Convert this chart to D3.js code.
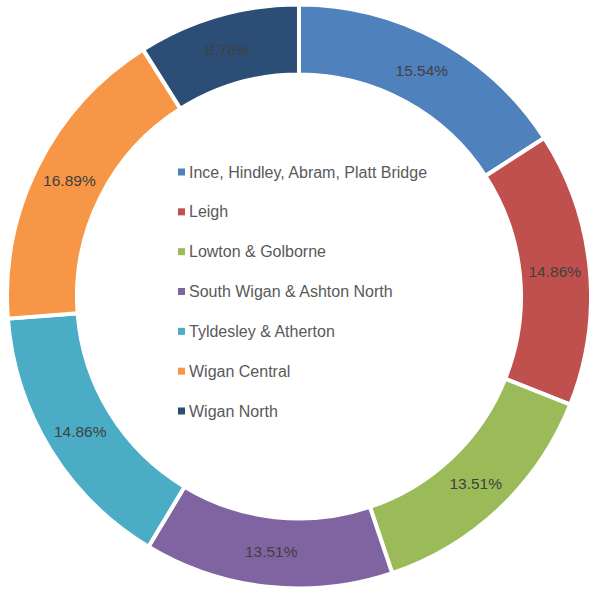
<!DOCTYPE html>
<html>
<head>
<meta charset="utf-8">
<script src="https://cdn.jsdelivr.net/npm/d3@7"></script>
<style>
  body { margin: 0; background: #fff; }
  svg text { font-family: "Liberation Sans", Arial, sans-serif; }
</style>
</head>
<body>
<div id="app"></div>
<script>
const width = 589,
  height = 590;

const categories = [
  "Ince, Hindley, Abram, Platt Bridge",
  "Leigh",
  "Lowton & Golborne",
  "South Wigan & Ashton North",
  "Tyldesley & Atherton",
  "Wigan Central",
  "Wigan North"
];
const values = [15.54, 14.86, 13.51, 13.51, 14.86, 16.89, 8.78];
const colors = ["#4f81bd", "#c0504d", "#9bbb59", "#8064a2", "#4bacc6", "#f79646", "#2c4d75"];

const cx = 299,
  cy = 296.5,
  outerR = 292,
  innerR = 222;

const svg = d3.select("#app").append("svg")
  .attr("width", width)
  .attr("height", height);

const color = d3.scaleOrdinal().domain(categories).range(colors);

const pie = d3.pie().sort(null).value(d => d.value);
const arc = d3.arc().innerRadius(innerR).outerRadius(outerR);

const data = categories.map((c, i) => ({ name: c, value: values[i] }));

const g = svg.append("g").attr("transform", `translate(${cx},${cy})`);

g.selectAll("path.slice")
  .data(pie(data))
  .join("path")
  .attr("class", "slice")
  .attr("d", arc)
  .attr("fill", d => color(d.data.name))
  .attr("stroke", "#fff")
  .attr("stroke-width", 4)
  .attr("stroke-linejoin", "miter");

// percentage labels at arc centroids
g.selectAll("text.lbl")
  .data(pie(data))
  .join("text")
  .attr("class", "lbl")
  .attr("transform", d => `translate(${arc.centroid(d)})`)
  .attr("text-anchor", "middle")
  .attr("dy", "0.35em")
  .attr("font-size", 15.5)
  .attr("fill", "#404040")
  .text(d => d3.format(".2f")(d.data.value) + "%");

// legend in the hole
const y = d3.scalePoint().domain(categories).range([172, 411]);

const legend = svg.append("g");
const item = legend.selectAll("g")
  .data(categories)
  .join("g")
  .attr("transform", d => `translate(178,${y(d)})`);

item.append("rect")
  .attr("x", 0)
  .attr("y", -3.5)
  .attr("width", 7)
  .attr("height", 7)
  .attr("fill", d => color(d));

item.append("text")
  .attr("x", 11)
  .attr("dy", "0.35em")
  .attr("font-size", 16)
  .attr("fill", "#595959")
  .text(d => d);
</script>
</body>
</html>
